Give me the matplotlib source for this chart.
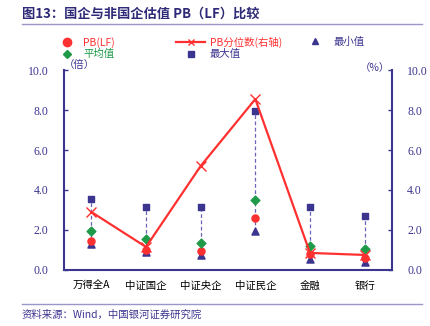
import matplotlib
matplotlib.use("Agg")
import matplotlib.pyplot as plt
from matplotlib.lines import Line2D

plt.rcParams['font.family'] = ['Noto Sans CJK SC', 'DejaVu Sans']

categories = ['万得全A', '中证国企', '中证央企', '中证民企', '金融', '银行']
pb_lf = [1.45, 1.0, 0.95, 2.6, 0.8, 0.6]
pb_pct = [2.9, 1.15, 5.2, 8.55, 0.85, 0.75]
pb_min = [1.3, 0.9, 0.75, 1.95, 0.55, 0.4]
pb_mean = [1.95, 1.55, 1.35, 3.5, 1.2, 1.05]
pb_max = [3.55, 3.15, 3.15, 7.95, 3.15, 2.7]
yticks = [0, 2, 4, 6, 8, 10]

navy = '#3c3590'
red = '#ff3030'
green = '#1f9a48'
num_font = ['Liberation Serif', 'DejaVu Serif']

fig = plt.figure(figsize=(4.31, 3.26), dpi=100)
ax = fig.add_axes([0.1485, 0.172, 0.761, 0.613])
ax2 = ax.twinx()

x = list(range(len(categories)))
for i in x:
    ax.plot([i, i], [pb_min[i], pb_max[i]], color='#6a64b8', lw=0.9,
            ls=(0, (3, 2)), zorder=1)
ax.scatter(x, pb_max, marker='s', s=22, color=navy, zorder=3)
ax.scatter(x, pb_min, marker='^', s=26, color=navy, zorder=3)
ax.scatter(x, pb_lf, marker='o', s=26, color=red, zorder=4)
ax.scatter(x, pb_mean, marker='D', s=20, color=green, zorder=5)
ax2.plot(x, pb_pct, color=red, lw=1.6, marker='x', ms=7, mew=1.0, zorder=6)

for a in (ax, ax2):
    a.set_ylim(0, 10)
    a.set_xlim(-0.5, 5.5)
    a.set_yticks(yticks)
    a.set_yticklabels([f'{v:.1f}' for v in yticks])
    for t in a.get_yticklabels():
        t.set_fontfamily(num_font)
        t.set_fontsize(8.5)
        t.set_color(navy)
    a.tick_params(axis='y', direction='in', length=3, color=navy, width=1,
                  pad=11)
    for s in a.spines.values():
        s.set_visible(False)
ax.spines['left'].set_visible(True)
ax.spines['bottom'].set_visible(True)
ax2.spines['right'].set_visible(True)
for s in (ax.spines['left'], ax.spines['bottom'], ax2.spines['right']):
    s.set_color(navy)
    s.set_linewidth(1.5)
ax.set_xticks(x)
ax.set_xticklabels(categories, fontsize=7.5)
ax.tick_params(axis='x', length=0, pad=8)
ax2.set_zorder(ax.get_zorder() + 1)

ax.text(0.0, 1.0, '（倍）', transform=ax.transAxes, fontsize=7.5,
        color=navy, va='bottom')
ax2.text(0.995, 0.985, '（%）', transform=ax2.transAxes, fontsize=7.5,
         color=navy, va='bottom', ha='right')

# title and rules
fig.text(0.05, 0.957, '图13：国企与非国企估值 PB（LF）比较', fontsize=9.5,
         fontweight='bold', color='#2e2a78', va='center')
fig.add_artist(Line2D([0.05, 0.98], [0.925, 0.925], color='#9a96c8', lw=1))
fig.add_artist(Line2D([0.05, 0.98], [0.068, 0.068], color='#9a96c8', lw=1))
fig.text(0.05, 0.035, '资料来源：Wind，中国银河证券研究院', fontsize=7.5,
         style='italic', color='#3c3590', va='center')

# legend, three columns placed separately
cols = [
    ([Line2D([], [], ls='none', marker='o', ms=6, color=red),
      Line2D([], [], ls='none', marker='D', ms=4.5, color=green)],
     ['PB(LF)', '平均值'], [red, green], 0.116, 1.5, 0.8),
    ([Line2D([], [], color=red, lw=1.6, marker='x', ms=5),
      Line2D([], [], ls='none', marker='s', ms=5, color=navy)],
     ['PB分位数(右轴)', '最大值'], [red, navy], 0.387, 2.8, 0.4),
    ([Line2D([], [], ls='none', marker='^', ms=5, color=navy)],
     ['最小值'], [navy], 0.691, 1.5, 1.0),
]
for hs, ls, cs, x0, hl, tp in cols:
    leg = fig.legend(hs, ls, frameon=False, fontsize=7.5, loc='upper left',
                     bbox_to_anchor=(x0, 0.915), handlelength=hl,
                     labelspacing=0.1, handletextpad=tp)
    for t, c in zip(leg.get_texts(), cs):
        t.set_color(c)

fig.savefig('out.png', dpi=100, facecolor='white')
